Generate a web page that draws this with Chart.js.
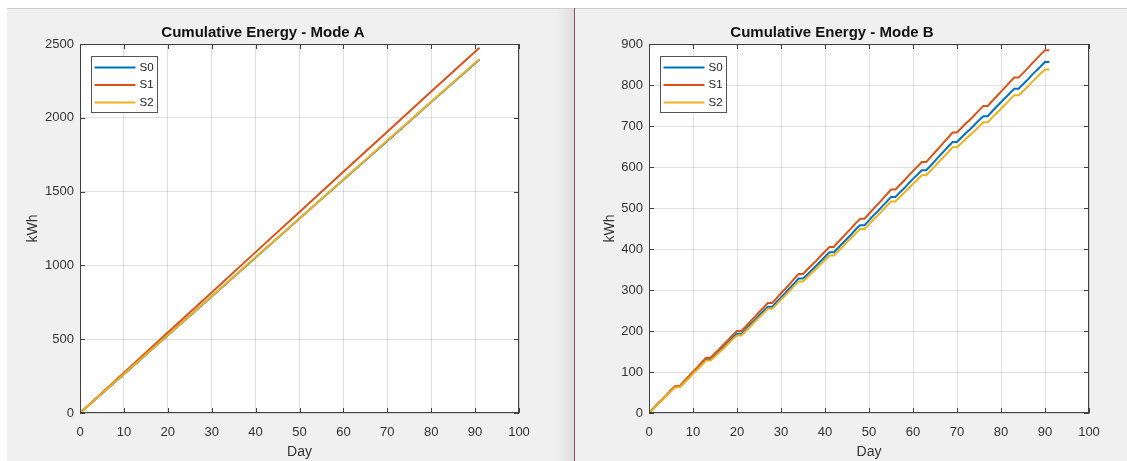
<!DOCTYPE html>
<html>
<head>
<meta charset="utf-8">
<script src="https://cdn.jsdelivr.net/npm/chart.js@4"></script>
<style>
  body { margin: 0; width: 1127px; height: 461px; background: #fff; position: relative; overflow: hidden; }
  .panel { position: absolute; top: 8px; height: 453px; background: #f0f0f0; border-top: 1px solid #cdcdcd; box-sizing: border-box; }
  #panelA { left: 7px; width: 567px; }
  #panelB { left: 575px; width: 552px; }
  #shade { position: absolute; top: 9px; left: 556px; width: 18px; height: 452px;
           background: linear-gradient(to right, rgba(0,0,0,0), rgba(0,0,0,0.08)); }
  #divider { position: absolute; top: 8px; left: 574px; width: 1px; height: 453px; background: #8c4b68; }
  canvas { position: absolute; }
  #chartA { left: 7px; top: 9px; }
  #chartB { left: 575px; top: 9px; }
</style>
</head>
<body>
<div class="panel" id="panelA"></div>
<div id="shade"></div>
<div class="panel" id="panelB"></div>
<div id="divider"></div>
<canvas id="chartA" width="561" height="452"></canvas>
<canvas id="chartB" width="552" height="452"></canvas>
<script>
// series names
const names = ['S0', 'S1', 'S2'];
const colors = ['#0072BD', '#D95319', '#EDB120'];

// Mode A - read at a few days, lines are straight
const daysA = [0, 10, 20, 30, 40, 50, 60, 70, 80, 91];
const s0A = [0, 263, 527, 790, 1053, 1317, 1580, 1843, 2107, 2395];
const s1A = [0, 272, 545, 817, 1090, 1362, 1634, 1906, 2178, 2475];
const s2A = [0, 264, 528, 791, 1055, 1318, 1582, 1846, 2109, 2399];

// Mode B - one value per day, day 0..91 (flat on weekends)
const s0B = [0,
  11, 22, 32, 43, 54, 64, 64,
  75, 86, 98, 108, 120, 131, 131,
  141, 151, 161, 172, 184, 193, 193,
  204, 216, 226, 238, 249, 259, 259,
  271, 282, 293, 305, 316, 328, 328,
  338, 349, 359, 370, 381, 392, 392,
  403, 414, 425, 436, 448, 458, 458,
  470, 482, 492, 504, 515, 527, 527,
  538, 548, 560, 571, 581, 592, 592,
  603, 615, 627, 638, 650, 661, 661,
  672, 683, 692, 703, 714, 724, 724,
  736, 747, 758, 769, 780, 791, 791,
  802, 812, 824, 835, 845, 856, 856];
const s1B = [0,
  11, 23, 33, 44, 56, 66, 66,
  78, 89, 101, 112, 124, 135, 135,
  146, 156, 167, 178, 190, 200, 200,
  211, 223, 234, 246, 257, 268, 268,
  280, 292, 303, 315, 327, 339, 339,
  350, 361, 371, 383, 394, 405, 405,
  417, 428, 440, 451, 463, 474, 474,
  486, 498, 509, 521, 533, 545, 545,
  556, 567, 579, 590, 601, 612, 612,
  624, 636, 648, 660, 672, 684, 684,
  695, 706, 716, 727, 738, 749, 749,
  761, 772, 784, 795, 807, 818, 818,
  829, 840, 852, 863, 874, 885, 885];
const s2B = [0,
  10, 22, 31, 42, 53, 63, 63,
  74, 84, 96, 106, 117, 128, 128,
  138, 148, 158, 169, 180, 189, 189,
  200, 211, 222, 233, 243, 254, 254,
  265, 277, 287, 298, 310, 321, 321,
  331, 342, 351, 363, 373, 384, 384,
  395, 405, 417, 427, 438, 449, 449,
  460, 472, 482, 493, 505, 516, 516,
  527, 537, 548, 559, 569, 580, 580,
  591, 602, 614, 625, 636, 648, 648,
  658, 669, 678, 688, 699, 709, 709,
  721, 731, 742, 753, 764, 775, 775,
  785, 795, 807, 817, 828, 838, 838];

// axis ranges
const xMax = 100, xStep = 10;
const yMaxA = 2500, yStepA = 500;
const yMaxB = 900, yStepB = 100;

Chart.defaults.font.family = '"Liberation Sans", Arial, sans-serif';
Chart.defaults.color = '#333';

// white plot area, matlab style box with inner ticks, boxed legend
const matlabBox = {
  id: 'matlabBox',
  beforeDraw(chart) {
    const a = chart.chartArea, c = chart.ctx;
    c.save();
    c.fillStyle = '#fff';
    c.fillRect(a.left, a.top, a.right - a.left, a.bottom - a.top);
    c.restore();
  },
  afterDraw(chart) {
    const a = chart.chartArea, c = chart.ctx;
    const sx = chart.scales.x, sy = chart.scales.y;
    c.save();
    c.strokeStyle = '#404040';
    c.lineWidth = 1;
    c.strokeRect(Math.round(a.left) + 0.5, Math.round(a.top) + 0.5,
                 Math.round(a.right - a.left) - 1, Math.round(a.bottom - a.top) - 1);
    const tl = 5;
    c.beginPath();
    sx.ticks.forEach(t => {
      const px = Math.round(sx.getPixelForValue(t.value)) + 0.5;
      c.moveTo(px, a.bottom); c.lineTo(px, a.bottom - tl);
      c.moveTo(px, a.top); c.lineTo(px, a.top + tl);
    });
    sy.ticks.forEach(t => {
      const py = Math.round(sy.getPixelForValue(t.value)) + 0.5;
      c.moveTo(a.left, py); c.lineTo(a.left + tl, py);
      c.moveTo(a.right, py); c.lineTo(a.right - tl, py);
    });
    c.stroke();

    // legend
    const bx = Math.round(a.left) + 11.5, by = Math.round(a.top) + 12.5;
    c.fillStyle = '#fff';
    c.fillRect(bx, by, 66, 56);
    c.strokeStyle = '#555';
    c.strokeRect(bx, by, 66, 56);
    c.font = '11.5px "Liberation Sans", Arial, sans-serif';
    c.textBaseline = 'middle';
    chart.data.datasets.forEach((ds, i) => {
      const ly = by + 11 + i * 17.5;
      c.strokeStyle = ds.borderColor;
      c.lineWidth = 2;
      c.beginPath();
      c.moveTo(bx + 3, ly); c.lineTo(bx + 44, ly);
      c.stroke();
      c.fillStyle = '#222';
      c.fillText(ds.label, bx + 48, ly);
    });
    c.restore();
  }
};

function makeChart(id, title, series, yMax, yStep, padRight, yWidth, yTitlePad) {
  const datasets = series.map((pts, i) => ({
    label: names[i],
    data: pts,
    borderColor: colors[i],
    borderWidth: 2,
    pointRadius: 0,
    tension: 0,
    fill: false,
    order: 3 - i
  }));
  return new Chart(document.getElementById(id), {
    type: 'line',
    data: { datasets },
    plugins: [matlabBox],
    options: {
      responsive: false,
      animation: false,
      layout: { padding: { top: 0, left: 0, right: padRight, bottom: 0 } },
      plugins: {
        legend: { display: false },
        tooltip: { enabled: false },
        title: {
          display: true,
          text: title,
          color: '#111',
          font: { size: 15, weight: 'bold' },
          padding: { top: 15, bottom: 2 }
        }
      },
      scales: {
        x: {
          type: 'linear',
          min: 0, max: xMax,
          afterFit: s => { s.height = 48; },
          ticks: { stepSize: xStep, padding: 12, maxRotation: 0, autoSkip: false, font: { size: 13 }, color: '#333',
                   callback: v => String(v) },
          grid: { color: 'rgba(0,0,0,0.12)', drawTicks: false },
          border: { display: false },
          title: { display: true, text: 'Day', color: '#333', font: { size: 14 }, padding: { top: 0, bottom: 0 } }
        },
        y: {
          min: 0, max: yMax,
          afterFit: s => { s.width = yWidth; },
          ticks: { stepSize: yStep, padding: 6, font: { size: 13 }, color: '#333',
                   callback: v => String(v) },
          grid: { color: 'rgba(0,0,0,0.12)', drawTicks: false },
          border: { display: false },
          title: { display: true, text: 'kWh', color: '#333', font: { size: 14 }, padding: { top: yTitlePad, bottom: 0 } }
        }
      }
    }
  });
}

window.onload = function() {
  const toPts = (xs, ys) => ys.map((v, i) => ({ x: xs[i], y: v }));
  const byDay = ys => ys.map((v, i) => ({ x: i, y: v }));
  makeChart('chartA', 'Cumulative Energy - Mode A',
    [toPts(daysA, s0A), toPts(daysA, s1A), toPts(daysA, s2A)],
    yMaxA, yStepA, 49, 73, 17.5);
  makeChart('chartB', 'Cumulative Energy - Mode B',
    [byDay(s0B), byDay(s1B), byDay(s2B)],
    yMaxB, yStepB, 38, 74, 26.5);
};
</script>
</body>
</html>
